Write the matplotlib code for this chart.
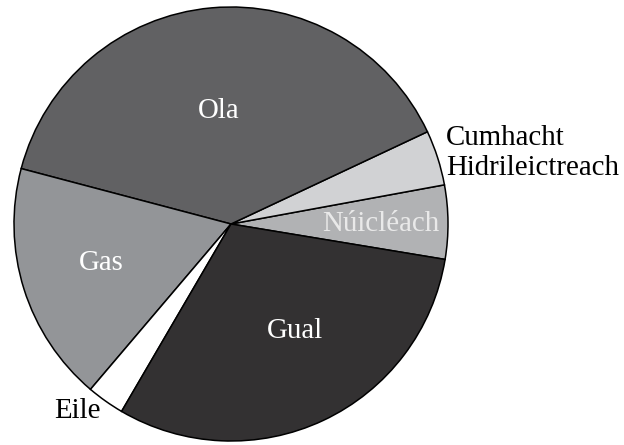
import matplotlib
matplotlib.use("Agg")
import matplotlib.pyplot as plt

labels = ["Núicléach", "Cumhacht Hidrileictreach", "Ola", "Gas", "Eile", "Gual"]
values = [5.5, 4.1, 38.9, 17.9, 2.8, 30.8]
colors = ["#b1b2b4", "#d1d2d4", "#616163", "#939598", "#ffffff", "#333132"]

fig = plt.figure(figsize=(6.24, 4.45), dpi=100)
ax = fig.add_axes([0, 0, 1, 1])
ax.pie(values, colors=colors, startangle=-9.4, counterclock=True, radius=1.0,
       center=(0, 0), wedgeprops=dict(edgecolor="black", linewidth=1.1))
ax.set_xlim(-231/217, 393/217)
ax.set_ylim(-221/217, 224/217)
ax.set_aspect('auto')
ax.axis('off')

fs = 20.8
kw = dict(family=['Liberation Serif'], fontsize=fs, va="baseline", transform=ax.transData)
fig.text(-0.055, 0.487, "Ola", color="white", ha="center", **kw)
fig.text(-0.598, -0.212, "Gas", color="white", ha="center", **kw)
fig.text(0.294, -0.527, "Gual", color="white", ha="center", **kw)
fig.text(0.691, -0.032, "Núicléach", color="#e9e9e9", ha="center", **kw)
fig.text(0.991, 0.364, "Cumhacht", color="black", ha="left", **kw)
fig.text(0.991, 0.226, "Hidrileictreach", color="black", ha="left", **kw)
fig.text(-0.816, -0.892, "Eile", color="black", ha="left", **kw)

fig.savefig("out.png", dpi=100)
